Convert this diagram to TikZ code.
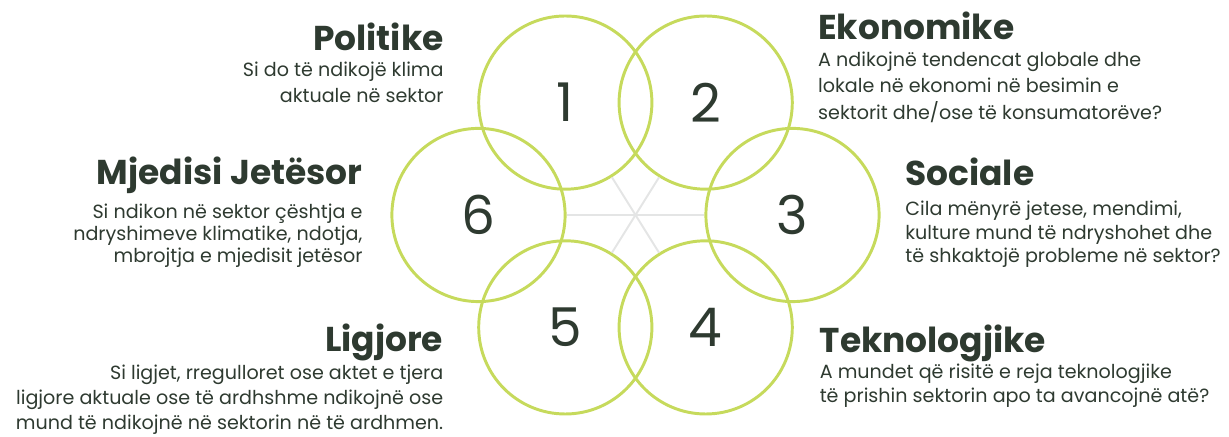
\documentclass[tikz,border=0pt]{standalone}
\usepackage{fontspec}
\setmainfont{Poppins}
\usepackage{xcolor}
\usetikzlibrary{positioning}
\definecolor{ringgreen}{HTML}{C6DA5C}
\definecolor{inkdark}{HTML}{2E3A30}
\definecolor{spokegray}{HTML}{E4E5E5}
\newcommand{\blockhead}[1]{{\fontsize{24.5}{24.5}\selectfont\bfseries #1}}

\begin{document}
\begin{tikzpicture}[
  ring/.style={
    circle, draw=ringgreen, line width=2.1pt,
    minimum size=4.33cm, inner sep=0pt,
    text=inkdark, font=\fontsize{38}{38}\selectfont
  },
  spoke/.style={draw=spokegray, line width=1.4pt},
  infoleft/.style={
    anchor=base east, align=right, inner sep=0pt,
    text=inkdark, font=\fontsize{13.6}{18.7}\selectfont
  },
  inforight/.style={
    anchor=base west, align=left, inner sep=0pt,
    text=inkdark, font=\fontsize{13.6}{18.7}\selectfont
  }
]
\useasboundingbox (-15.8875,-5.55) rectangle (14.8375,5.375);

\coordinate (hub) at (0,0);

\node[ring] (c1) at (-1.755, 2.81) {1};
\node[ring] (c2) at ( 1.755, 2.81) {2};
\node[ring] (c3) at ( 3.925, 0)    {3};
\node[ring] (c4) at ( 1.755,-2.81) {4};
\node[ring] (c5) at (-1.755,-2.81) {5};
\node[ring] (c6) at (-3.925, 0)    {6};

\draw[spoke] (hub) -- (c1);
\draw[spoke] (hub) -- (c2);
\draw[spoke] (hub) -- (c3);
\draw[spoke] (hub) -- (c4);
\draw[spoke] (hub) -- (c5);
\draw[spoke] (hub) -- (c6);

% anchors sit on the baseline of the last line
\node[infoleft] (politike) at (-4.79, 2.8) {%
  \blockhead{Politike}\\
  Si do të ndikojë klima\\
  aktuale në sektor
};

\node[inforight, font=\fontsize{13.6}{19.2}\selectfont] (ekonomike) at (4.56, 2.375) {%
  \blockhead{Ekonomike}\\
  A ndikojnë tendencat globale dhe\\
  lokale në ekonomi në besimin e\\
  sektorit dhe/ose të konsumatorëve?
};

\node[infoleft, font=\fontsize{13.6}{15.8}\selectfont] (mjedisi) at (-6.82, -1.19) {%
  \blockhead{Mjedisi Jetësor}\\[6pt]
  Si ndikon në sektor çështja e\\
  ndryshimeve klimatike, ndotja,\\
  mbrojtja e mjedisit jetësor
};

\node[inforight, font=\fontsize{13.6}{16.6}\selectfont] (sociale) at (6.74, -1.19) {%
  \blockhead{Sociale}\\[5pt]
  Cila mënyrë jetese, mendimi,\\
  kulture mund të ndryshohet dhe\\
  të shkaktojë probleme në sektor?
};

\node[infoleft, font=\fontsize{13.6}{18}\selectfont] (ligjore) at (-4.8, -5.375) {%
  \blockhead{Ligjore}\\[2pt]
  Si ligjet, rregulloret ose aktet e tjera\\
  ligjore aktuale ose të ardhshme ndikojnë ose\\
  mund të ndikojnë në sektorin në të ardhmen.
};

\node[inforight, font=\fontsize{13.6}{17.4}\selectfont] (teknologjike) at (4.6, -4.69) {%
  \blockhead{Teknologjike}\\[1pt]
  A mundet që risitë e reja teknologjike\\
  të prishin sektorin apo ta avancojnë atë?
};

\end{tikzpicture}
\end{document}
